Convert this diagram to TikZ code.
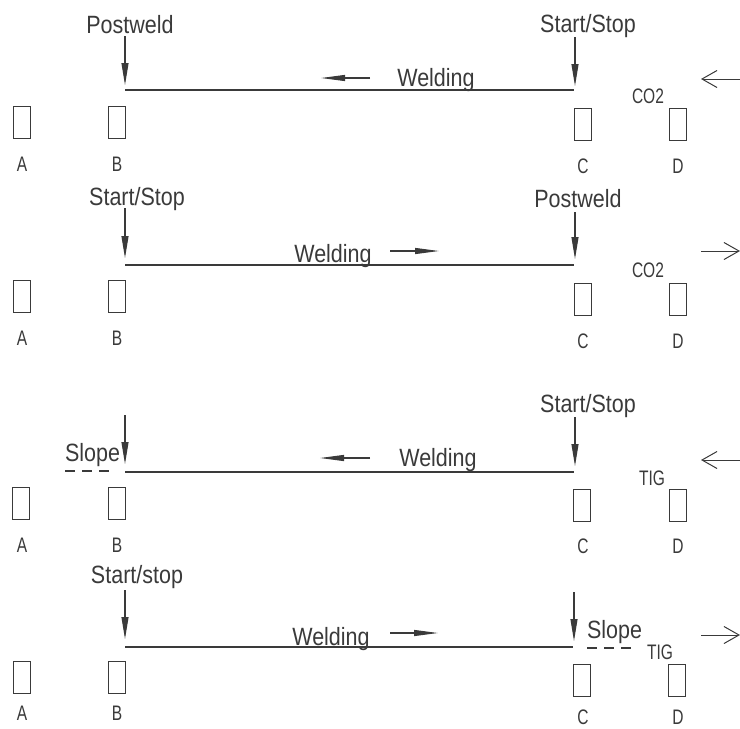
\documentclass[tikz,border=0pt]{standalone}
\usepackage{fontspec}
\setmainfont{Liberation Sans}[FakeStretch=0.86]
\newfontfamily\narrowfont{Liberation Sans}[FakeStretch=0.74]
\usetikzlibrary{arrows.meta}
\definecolor{ink}{HTML}{3A3A3A}
\begin{document}
\begin{tikzpicture}[x=1pt,y=-1pt,
  every node/.style={inner sep=0pt,outer sep=0pt,text=ink},
  line/.style={draw=ink,line width=1.1pt},
  cell/.style={draw=ink,line width=0.9pt,minimum width=17pt,minimum height=32pt},
  letter/.style={anchor=base,font=\narrowfont\fontsize{21}{23}\selectfont},
  word/.style={anchor=base,font=\fontsize{25}{27}\selectfont},
  gas/.style={anchor=base,font=\narrowfont\fontsize{21}{23}\selectfont},
  drop/.style={line,-{Triangle[length=22pt,width=7pt]}},
  travel/.style={line,-{Triangle[length=24pt,width=6pt]}},
  course/.style={draw=ink,line width=1pt,-{Straight Barb[length=15pt,width=17pt]}},
  slope/.style={line,dash pattern=on 10pt off 7pt}]
\useasboundingbox (0,0) rectangle (740,729);

% ---------- row 1: CO2, welding right to left ----------
\node[cell] (a1) at (21.5,122) {};
\node[cell] (b1) at (117,122) {};
\node[cell] (c1) at (583,124.5) {};
\node[cell] (d1) at (677.5,124.5) {};
\node[letter] (la1) at (22,171) {A};
\node[letter] (lb1) at (117,171) {B};
\node[letter] (lc1) at (583,173) {C};
\node[letter] (ld1) at (678,173) {D};
\node[word] (pw1) at (130,33) {Postweld};
\node[word] (ss1) at (588,32) {Start/Stop};
\node[word] (w1) at (436,86) {Welding};
\node[gas] (g1) at (648,103) {CO2};
\coordinate (b1t) at (125,36);  \coordinate (b1b) at (125,85);
\coordinate (c1t) at (575,37);  \coordinate (c1b) at (575,86);
\coordinate (s1) at (125,90);   \coordinate (e1) at (574,90);
\coordinate (t1a) at (370,78);  \coordinate (t1b) at (321,78);
\coordinate (r1a) at (740,79);  \coordinate (r1b) at (701,79);
\draw[drop] (b1t) -- (b1b);
\draw[drop] (c1t) -- (c1b);
\draw[line] (s1) -- (e1);
\draw[travel] (t1a) -- (t1b);
\draw[course] (r1a) -- (r1b);

% ---------- row 2: CO2, welding left to right ----------
\node[cell] (a2) at (21.5,296) {};
\node[cell] (b2) at (117,296) {};
\node[cell] (c2) at (583,299.5) {};
\node[cell] (d2) at (677.5,299.5) {};
\node[letter] (la2) at (22,345) {A};
\node[letter] (lb2) at (117,345) {B};
\node[letter] (lc2) at (583,348) {C};
\node[letter] (ld2) at (678,348) {D};
\node[word] (ss2) at (137,205) {Start/Stop};
\node[word] (pw2) at (578,207) {Postweld};
\node[word] (w2) at (333,262) {Welding};
\node[gas] (g2) at (648,277) {CO2};
\coordinate (b2t) at (125,208); \coordinate (b2b) at (125,258);
\coordinate (c2t) at (575,212); \coordinate (c2b) at (575,259);
\coordinate (s2) at (125,265);  \coordinate (e2) at (574,265);
\coordinate (t2a) at (390,251); \coordinate (t2b) at (439,251);
\coordinate (r2a) at (701,251); \coordinate (r2b) at (740,251);
\draw[drop] (b2t) -- (b2b);
\draw[drop] (c2t) -- (c2b);
\draw[line] (s2) -- (e2);
\draw[travel] (t2a) -- (t2b);
\draw[course] (r2a) -- (r2b);

% ---------- row 3: TIG, welding right to left ----------
\node[cell] (a3) at (21,503) {};
\node[cell] (b3) at (116.5,503) {};
\node[cell] (c3) at (582,505) {};
\node[cell] (d3) at (677.5,505) {};
\node[letter] (la3) at (22,552) {A};
\node[letter] (lb3) at (117,552) {B};
\node[letter] (lc3) at (583,553) {C};
\node[letter] (ld3) at (678,553) {D};
\node[word,anchor=base east] (sl3) at (120,461) {Slope};
\node[word] (ss3) at (588,412) {Start/Stop};
\node[word] (w3) at (438,466) {Welding};
\node[gas] (g3) at (652,485) {TIG};
\coordinate (b3t) at (125,415); \coordinate (b3b) at (125,464);
\coordinate (c3t) at (575,417); \coordinate (c3b) at (575,466);
\coordinate (s3) at (125,472);  \coordinate (e3) at (574,472);
\coordinate (d3a) at (65,471);  \coordinate (d3b) at (112,471);
\coordinate (t3a) at (370,458); \coordinate (t3b) at (320,458);
\coordinate (r3a) at (740,460); \coordinate (r3b) at (701,460);
\draw[drop] (b3t) -- (b3b);
\draw[drop] (c3t) -- (c3b);
\draw[line] (s3) -- (e3);
\draw[slope] (d3a) -- (d3b);
\draw[travel] (t3a) -- (t3b);
\draw[course] (r3a) -- (r3b);

% ---------- row 4: TIG, welding left to right ----------
\node[cell] (a4) at (21.5,677.5) {};
\node[cell] (b4) at (116.5,677.5) {};
\node[cell] (c4) at (582,680.5) {};
\node[cell] (d4) at (677,680.5) {};
\node[letter] (la4) at (22,720) {A};
\node[letter] (lb4) at (117,720) {B};
\node[letter] (lc4) at (583,724) {C};
\node[letter] (ld4) at (678,724) {D};
\node[word] (ss4) at (137,583) {Start/stop};
\node[word] (w4) at (331,645) {Welding};
\node[word,anchor=base west] (sl4) at (587,638) {Slope};
\node[gas] (g4) at (660,659) {TIG};
\coordinate (b4t) at (125,590); \coordinate (b4b) at (125,639);
\coordinate (c4t) at (574,592); \coordinate (c4b) at (574,641);
\coordinate (s4) at (125,647);  \coordinate (e4) at (573,647);
\coordinate (d4a) at (587,648); \coordinate (d4b) at (633,648);
\coordinate (t4a) at (390,633); \coordinate (t4b) at (438,633);
\coordinate (r4a) at (701,635); \coordinate (r4b) at (740,635);
\draw[drop] (b4t) -- (b4b);
\draw[drop] (c4t) -- (c4b);
\draw[line] (s4) -- (e4);
\draw[slope] (d4a) -- (d4b);
\draw[travel] (t4a) -- (t4b);
\draw[course] (r4a) -- (r4b);
\end{tikzpicture}
\end{document}
